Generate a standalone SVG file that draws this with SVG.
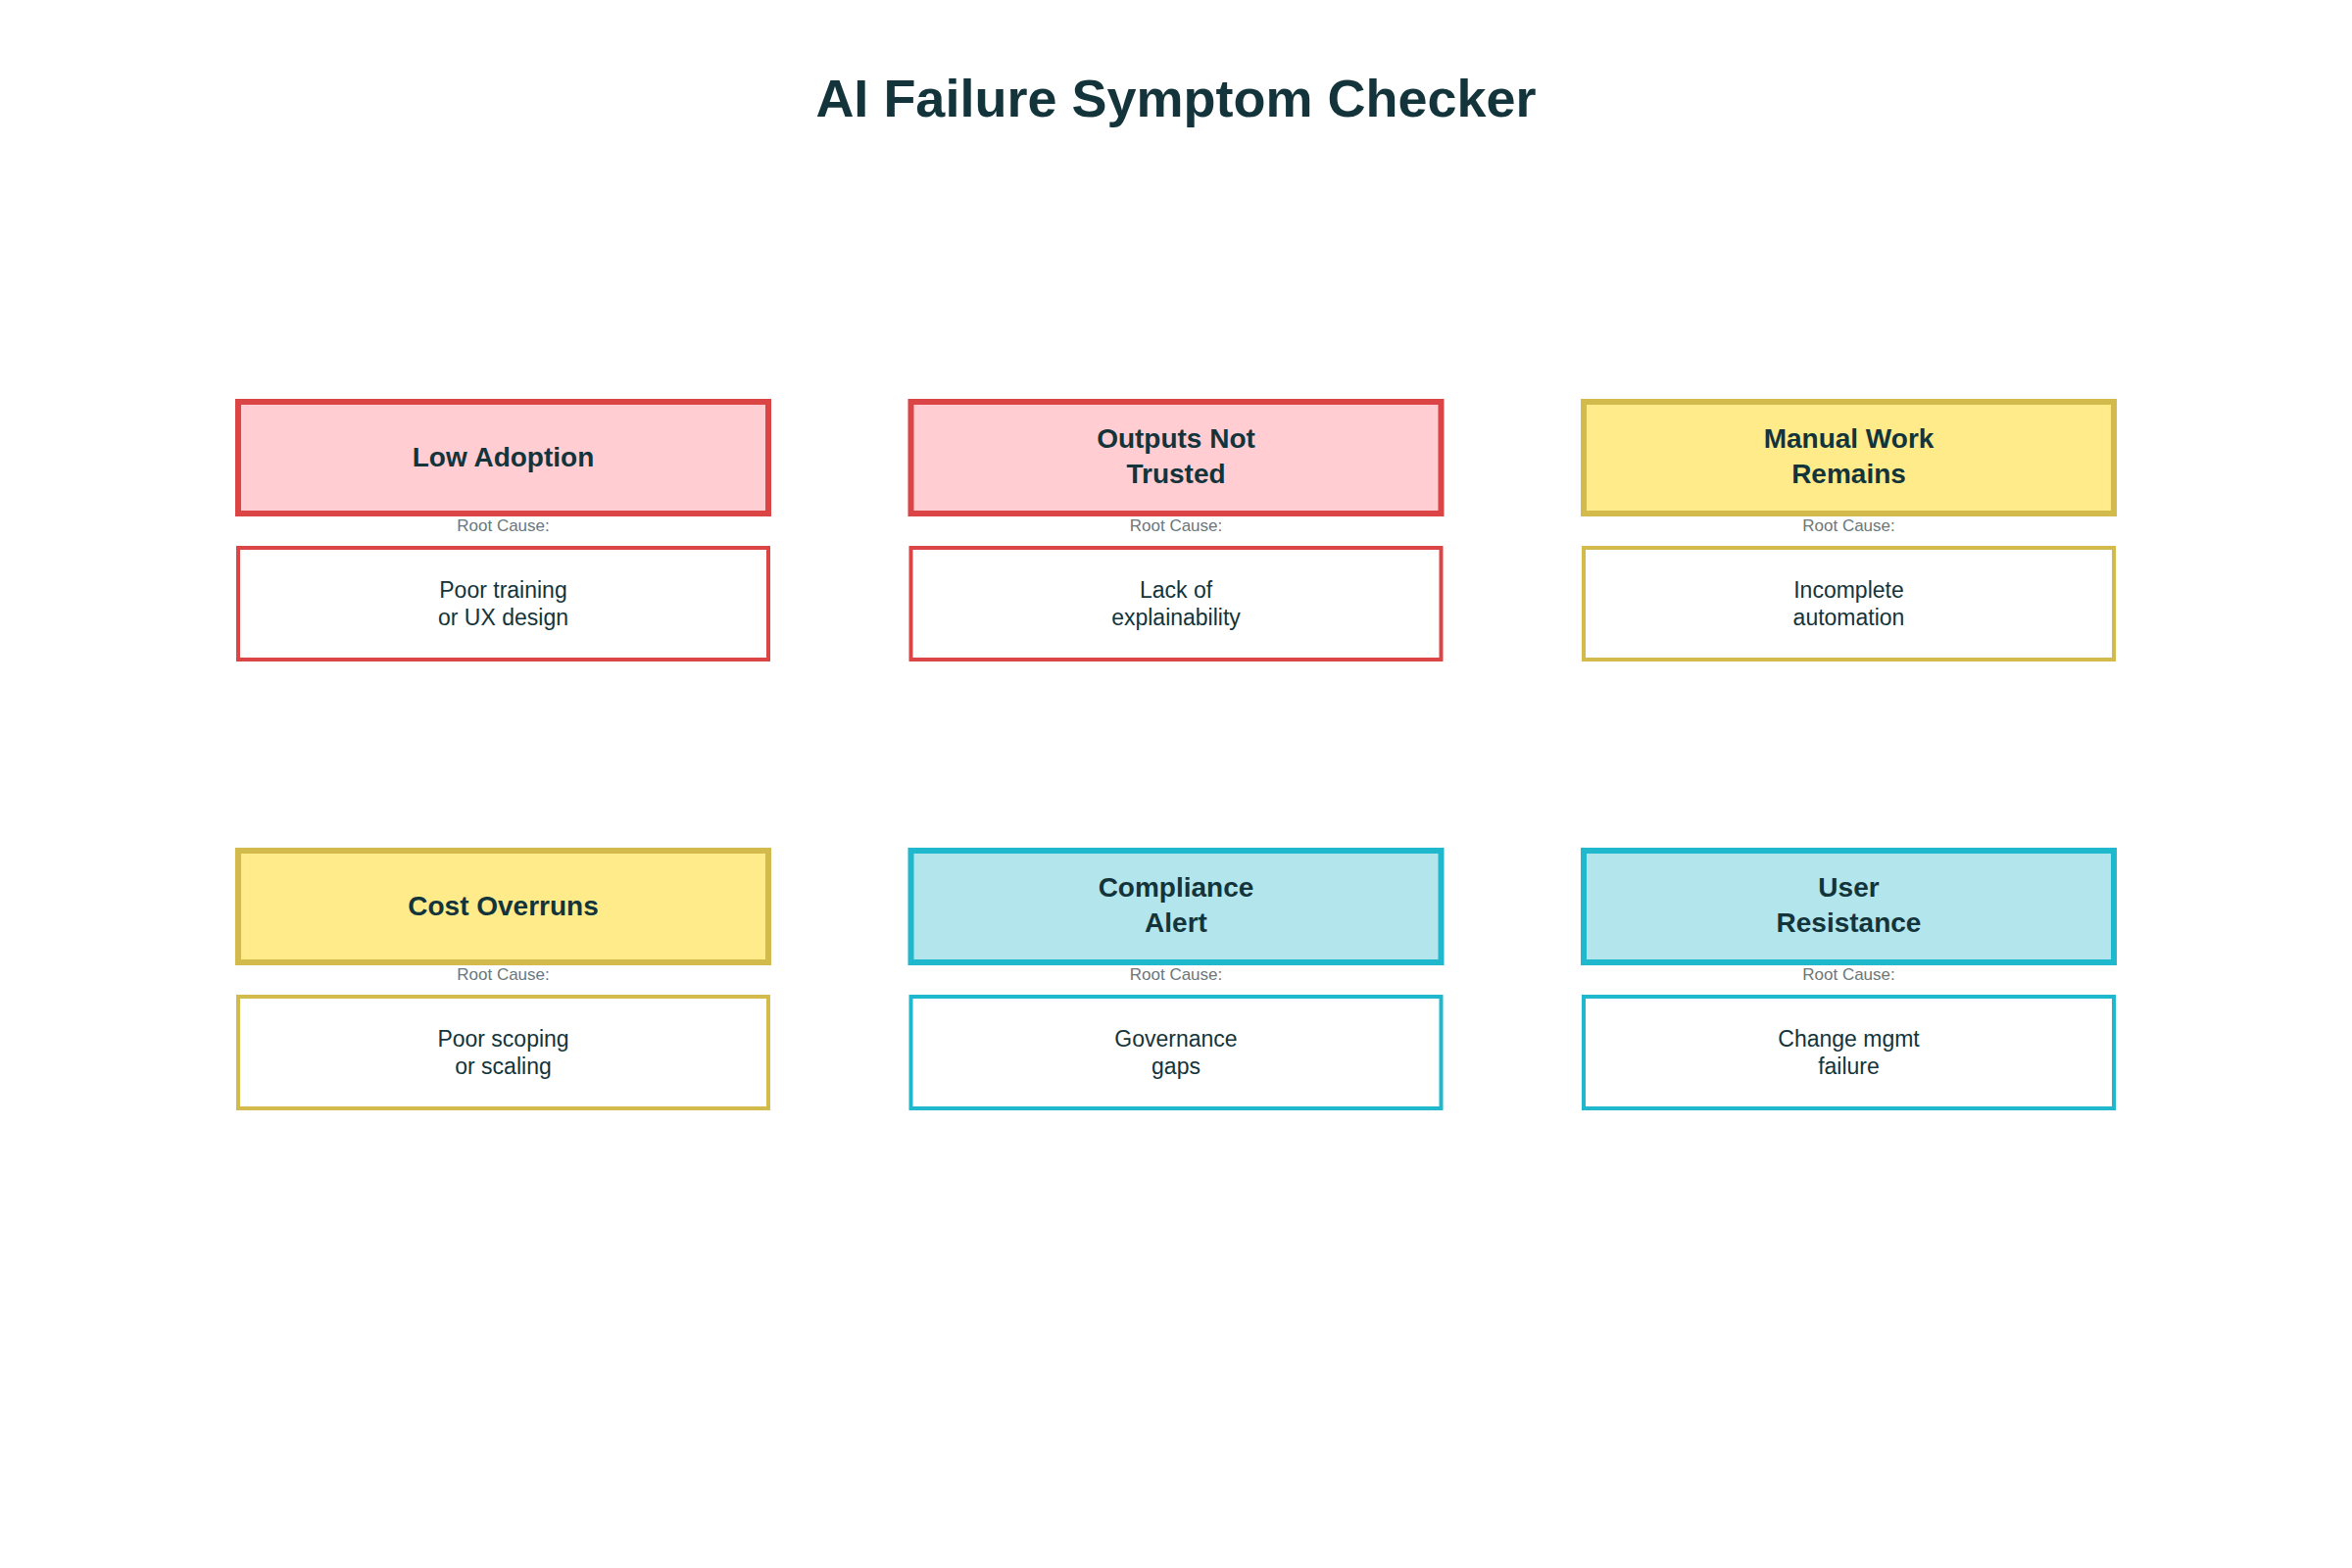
<svg xmlns="http://www.w3.org/2000/svg" width="2400" height="1600" viewBox="0 0 2400 1600">
<style>
text{font-family:"Liberation Sans",Arial,sans-serif;fill:#13343B;text-anchor:middle}
.title{font-size:54px;font-weight:bold}
.hd{stroke-width:6}
.cs{stroke-width:4;fill:#FFFFFF}
.ht{font-size:28px;font-weight:bold}
.rc{font-size:17px;fill:#6A777B}
.ct{font-size:23px}
.red{stroke:#DB4545}
.redf{fill:#FFCDD2}
.yel{stroke:#D2BA4C}
.yelf{fill:#FFEB8A}
.teal{stroke:#1FB8CD}
.tealf{fill:#B3E5EC}
</style>
<rect width="2400" height="1600" fill="#FFFFFF"/>
<text class="title" x="1200" y="119">AI Failure Symptom Checker</text>
<g id="connectors"></g>
<g id="node-low-adoption">
<rect class="hd red redf" x="243" y="410" width="541" height="114"/>
<text class="ht" x="513.5" y="476">Low Adoption</text>
<text class="rc" x="513.5" y="542">Root Cause:</text>
<rect class="cs red" x="243" y="559" width="541" height="114"/>
<text class="ct" x="513.5" y="610">Poor training</text>
<text class="ct" x="513.5" y="638">or UX design</text>
</g>
<g id="node-outputs-not-trusted">
<rect class="hd red redf" x="929.5" y="410" width="541" height="114"/>
<text class="ht" x="1200" y="457">Outputs Not</text>
<text class="ht" x="1200" y="493">Trusted</text>
<text class="rc" x="1200" y="542">Root Cause:</text>
<rect class="cs red" x="929.5" y="559" width="541" height="114"/>
<text class="ct" x="1200" y="610">Lack of</text>
<text class="ct" x="1200" y="638">explainability</text>
</g>
<g id="node-manual-work">
<rect class="hd yel yelf" x="1616" y="410" width="541" height="114"/>
<text class="ht" x="1886.5" y="457">Manual Work</text>
<text class="ht" x="1886.5" y="493">Remains</text>
<text class="rc" x="1886.5" y="542">Root Cause:</text>
<rect class="cs yel" x="1616" y="559" width="541" height="114"/>
<text class="ct" x="1886.5" y="610">Incomplete</text>
<text class="ct" x="1886.5" y="638">automation</text>
</g>
<g id="node-cost-overruns">
<rect class="hd yel yelf" x="243" y="868" width="541" height="114"/>
<text class="ht" x="513.5" y="934">Cost Overruns</text>
<text class="rc" x="513.5" y="1000">Root Cause:</text>
<rect class="cs yel" x="243" y="1017" width="541" height="114"/>
<text class="ct" x="513.5" y="1068">Poor scoping</text>
<text class="ct" x="513.5" y="1096">or scaling</text>
</g>
<g id="node-compliance-alert">
<rect class="hd teal tealf" x="929.5" y="868" width="541" height="114"/>
<text class="ht" x="1200" y="915">Compliance</text>
<text class="ht" x="1200" y="951">Alert</text>
<text class="rc" x="1200" y="1000">Root Cause:</text>
<rect class="cs teal" x="929.5" y="1017" width="541" height="114"/>
<text class="ct" x="1200" y="1068">Governance</text>
<text class="ct" x="1200" y="1096">gaps</text>
</g>
<g id="node-user-resistance">
<rect class="hd teal tealf" x="1616" y="868" width="541" height="114"/>
<text class="ht" x="1886.5" y="915">User</text>
<text class="ht" x="1886.5" y="951">Resistance</text>
<text class="rc" x="1886.5" y="1000">Root Cause:</text>
<rect class="cs teal" x="1616" y="1017" width="541" height="114"/>
<text class="ct" x="1886.5" y="1068">Change mgmt</text>
<text class="ct" x="1886.5" y="1096">failure</text>
</g>
</svg>
